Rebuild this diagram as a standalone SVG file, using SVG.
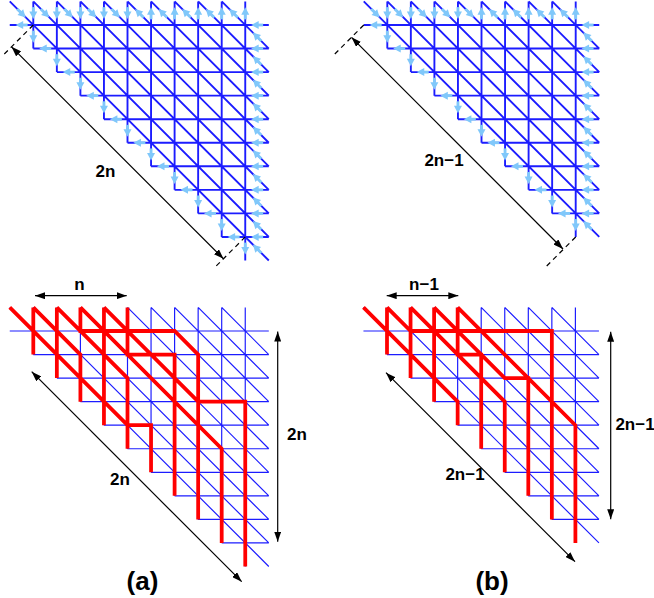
<svg xmlns="http://www.w3.org/2000/svg" xmlns:xlink="http://www.w3.org/1999/xlink" width="654" height="598" viewBox="0 0 654 598">
<style>
.grid{fill:none;stroke:#1c1cff}
.top{stroke-width:0.08}
.bot{stroke-width:0.05}
.red{fill:none;stroke:#ff0000;stroke-width:0.16;stroke-linejoin:miter}
.dim{fill:none;stroke:#000;stroke-width:1.2}
.dash{fill:none;stroke:#000;stroke-width:1.2;stroke-dasharray:5,4}
text{font-family:"Liberation Sans",Arial,Helvetica,sans-serif;font-weight:bold;font-size:17px;fill:#000;text-anchor:middle}
.big{font-size:26px}
</style>
<defs>
<marker id="ah" viewBox="0 0 10 7" refX="10" refY="3.5" markerWidth="10" markerHeight="7" markerUnits="userSpaceOnUse" orient="auto-start-reverse"><path d="M0,0L10,3.5L0,7z" fill="#000"/></marker>
<g id="ar"><path d="M-0.26,0H0" stroke="#80c8fa" stroke-width="0.12"/><path d="M0.25,0L-0.07,-0.17L-0.07,0.17z" fill="#80c8fa"/></g>
<path id="gridA" d="M-1 0H10M0 1H10M1 2H10M2 3H10M3 4H10M4 5H10M5 6H10M6 7H10M7 8H10M8 9H10M0 -1V1M1 -1V2M2 -1V3M3 -1V4M4 -1V5M5 -1V6M6 -1V7M7 -1V8M8 -1V9M9 -1V10M-1 -1L10 10M0 -1L10 9M1 -1L10 8M2 -1L10 7M3 -1L10 6M4 -1L10 5M5 -1L10 4M6 -1L10 3M7 -1L10 2M8 -1L10 1"/>
<path id="gridB" d="M-1 0H9M0 1H9M1 2H9M2 3H9M3 4H9M4 5H9M5 6H9M6 7H9M7 8H9M0 -1V1M1 -1V2M2 -1V3M3 -1V4M4 -1V5M5 -1V6M6 -1V7M7 -1V8M8 -1V9M-1 -1L9 9M0 -1L9 8M1 -1L9 7M2 -1L9 6M3 -1L9 5M4 -1L9 4M5 -1L9 3M6 -1L9 2M7 -1L9 1"/>
</defs>

<g id="panel-a-top" transform="translate(33.3 25) scale(23.55)">
<use xlink:href="#gridA" href="#gridA" class="grid top"/>
<g id="arrows-a">
<use href="#ar" transform="translate(0 -0.5) rotate(90)"/><use href="#ar" transform="translate(-0.5 -0.5) rotate(45)"/>
<use href="#ar" transform="translate(1 -0.5) rotate(90)"/><use href="#ar" transform="translate(0.5 -0.5) rotate(45)"/>
<use href="#ar" transform="translate(2 -0.5) rotate(90)"/><use href="#ar" transform="translate(1.5 -0.5) rotate(45)"/>
<use href="#ar" transform="translate(3 -0.5) rotate(90)"/><use href="#ar" transform="translate(2.5 -0.5) rotate(45)"/>
<use href="#ar" transform="translate(4 -0.5) rotate(90)"/><use href="#ar" transform="translate(3.5 -0.5) rotate(45)"/>
<use href="#ar" transform="translate(5 -0.5) rotate(-90)"/><use href="#ar" transform="translate(4.5 -0.5) rotate(-135)"/>
<use href="#ar" transform="translate(6 -0.5) rotate(-90)"/><use href="#ar" transform="translate(5.5 -0.5) rotate(-135)"/>
<use href="#ar" transform="translate(7 -0.5) rotate(-90)"/><use href="#ar" transform="translate(6.5 -0.5) rotate(-135)"/>
<use href="#ar" transform="translate(8 -0.5) rotate(-90)"/><use href="#ar" transform="translate(7.5 -0.5) rotate(-135)"/>
<use href="#ar" transform="translate(9 -0.5) rotate(-90)"/><use href="#ar" transform="translate(8.5 -0.5) rotate(-135)"/>
<use href="#ar" transform="translate(9.5 0) rotate(180)"/><use href="#ar" transform="translate(9.5 0.5) rotate(-135)"/>
<use href="#ar" transform="translate(9.5 1) rotate(180)"/><use href="#ar" transform="translate(9.5 1.5) rotate(-135)"/>
<use href="#ar" transform="translate(9.5 2) rotate(180)"/><use href="#ar" transform="translate(9.5 2.5) rotate(-135)"/>
<use href="#ar" transform="translate(9.5 3) rotate(180)"/><use href="#ar" transform="translate(9.5 3.5) rotate(-135)"/>
<use href="#ar" transform="translate(9.5 4) rotate(180)"/><use href="#ar" transform="translate(9.5 4.5) rotate(-135)"/>
<use href="#ar" transform="translate(9.5 5) rotate(180)"/><use href="#ar" transform="translate(9.5 5.5) rotate(-135)"/>
<use href="#ar" transform="translate(9.5 6) rotate(180)"/><use href="#ar" transform="translate(9.5 6.5) rotate(-135)"/>
<use href="#ar" transform="translate(9.5 7) rotate(180)"/><use href="#ar" transform="translate(9.5 7.5) rotate(-135)"/>
<use href="#ar" transform="translate(9.5 8) rotate(180)"/><use href="#ar" transform="translate(9.5 8.5) rotate(-135)"/>
<use href="#ar" transform="translate(9.5 9) rotate(180)"/><use href="#ar" transform="translate(9.5 9.5) rotate(-135)"/>
<use href="#ar" transform="translate(-0.5 0) rotate(180)"/>
<use href="#ar" transform="translate(0 0.5) rotate(90)"/><use href="#ar" transform="translate(0.5 1) rotate(180)"/>
<use href="#ar" transform="translate(1 1.5) rotate(90)"/><use href="#ar" transform="translate(1.5 2) rotate(180)"/>
<use href="#ar" transform="translate(2 2.5) rotate(90)"/><use href="#ar" transform="translate(2.5 3) rotate(180)"/>
<use href="#ar" transform="translate(3 3.5) rotate(90)"/><use href="#ar" transform="translate(3.5 4) rotate(180)"/>
<use href="#ar" transform="translate(4 4.5) rotate(90)"/><use href="#ar" transform="translate(4.5 5) rotate(180)"/>
<use href="#ar" transform="translate(5 5.5) rotate(90)"/><use href="#ar" transform="translate(5.5 6) rotate(180)"/>
<use href="#ar" transform="translate(6 6.5) rotate(90)"/><use href="#ar" transform="translate(6.5 7) rotate(180)"/>
<use href="#ar" transform="translate(7 7.5) rotate(90)"/><use href="#ar" transform="translate(7.5 8) rotate(180)"/>
<use href="#ar" transform="translate(8 8.5) rotate(90)"/><use href="#ar" transform="translate(8.5 9) rotate(180)"/>
<use href="#ar" transform="translate(9 9.5) rotate(90)"/>
</g>
</g>

<g id="panel-b-top" transform="translate(387.3 25) scale(23.55)">
<use href="#gridB" class="grid top"/>
<g id="arrows-b">
<use href="#ar" transform="translate(0 -0.5) rotate(90)"/><use href="#ar" transform="translate(-0.5 -0.5) rotate(45)"/>
<use href="#ar" transform="translate(1 -0.5) rotate(90)"/><use href="#ar" transform="translate(0.5 -0.5) rotate(45)"/>
<use href="#ar" transform="translate(2 -0.5) rotate(90)"/><use href="#ar" transform="translate(1.5 -0.5) rotate(45)"/>
<use href="#ar" transform="translate(3 -0.5) rotate(90)"/><use href="#ar" transform="translate(2.5 -0.5) rotate(45)"/>
<use href="#ar" transform="translate(4 -0.5) rotate(-90)"/><use href="#ar" transform="translate(3.5 -0.5) rotate(45)"/>
<use href="#ar" transform="translate(5 -0.5) rotate(-90)"/><use href="#ar" transform="translate(4.5 -0.5) rotate(-135)"/>
<use href="#ar" transform="translate(6 -0.5) rotate(-90)"/><use href="#ar" transform="translate(5.5 -0.5) rotate(-135)"/>
<use href="#ar" transform="translate(7 -0.5) rotate(-90)"/><use href="#ar" transform="translate(6.5 -0.5) rotate(-135)"/>
<use href="#ar" transform="translate(8 -0.5) rotate(-90)"/><use href="#ar" transform="translate(7.5 -0.5) rotate(-135)"/>
<use href="#ar" transform="translate(8.5 0) rotate(180)"/><use href="#ar" transform="translate(8.5 0.5) rotate(-135)"/>
<use href="#ar" transform="translate(8.5 1) rotate(180)"/><use href="#ar" transform="translate(8.5 1.5) rotate(-135)"/>
<use href="#ar" transform="translate(8.5 2) rotate(180)"/><use href="#ar" transform="translate(8.5 2.5) rotate(-135)"/>
<use href="#ar" transform="translate(8.5 3) rotate(180)"/><use href="#ar" transform="translate(8.5 3.5) rotate(-135)"/>
<use href="#ar" transform="translate(8.5 4) rotate(180)"/><use href="#ar" transform="translate(8.5 4.5) rotate(-135)"/>
<use href="#ar" transform="translate(8.5 5) rotate(180)"/><use href="#ar" transform="translate(8.5 5.5) rotate(-135)"/>
<use href="#ar" transform="translate(8.5 6) rotate(180)"/><use href="#ar" transform="translate(8.5 6.5) rotate(-135)"/>
<use href="#ar" transform="translate(8.5 7) rotate(180)"/><use href="#ar" transform="translate(8.5 7.5) rotate(-135)"/>
<use href="#ar" transform="translate(8.5 8) rotate(180)"/><use href="#ar" transform="translate(8.5 8.5) rotate(-135)"/>
<use href="#ar" transform="translate(-0.5 0) rotate(180)"/>
<use href="#ar" transform="translate(0 0.5) rotate(90)"/><use href="#ar" transform="translate(0.5 1) rotate(180)"/>
<use href="#ar" transform="translate(1 1.5) rotate(90)"/><use href="#ar" transform="translate(1.5 2) rotate(180)"/>
<use href="#ar" transform="translate(2 2.5) rotate(90)"/><use href="#ar" transform="translate(2.5 3) rotate(180)"/>
<use href="#ar" transform="translate(3 3.5) rotate(90)"/><use href="#ar" transform="translate(3.5 4) rotate(180)"/>
<use href="#ar" transform="translate(4 4.5) rotate(90)"/><use href="#ar" transform="translate(4.5 5) rotate(180)"/>
<use href="#ar" transform="translate(5 5.5) rotate(90)"/><use href="#ar" transform="translate(5.5 6) rotate(180)"/>
<use href="#ar" transform="translate(6 6.5) rotate(90)"/><use href="#ar" transform="translate(6.5 7) rotate(180)"/>
<use href="#ar" transform="translate(7 7.5) rotate(90)"/><use href="#ar" transform="translate(7.5 8) rotate(180)"/>
<use href="#ar" transform="translate(8 8.5) rotate(90)"/>
</g>
</g>

<g id="panel-a-bottom" transform="translate(33.3 331) scale(23.55)">
<use href="#gridA" class="grid bot"/>
<path class="red" d="M0 -1V1M1 -1V2M2 -1V0H6L7 1V8M3 -1V4M4 -1V1H6V7M-1 -1L4 4H5V6M0 -1L2 1V3M1 -1L4 2V5M2 -1L8 5V9M3 -1L7 3H9V10"/>
</g>

<g id="panel-b-bottom" transform="translate(387 331) scale(23.55)">
<use href="#gridB" class="grid bot"/>
<path class="red" d="M0 -1V1M1 -1V0H7V8M2 -1V3M3 -1V1H4V5M-1 -1L3 3V4M0 -1L1 0V2M1 -1L5 3V6M2 -1L5 2H6V7M3 -1L8 4V9"/>
</g>

<g id="connectors">
<path class="dash" d="M33.3,25L3,55.3M245.3,236.9L215,267.2"/>
<path class="dim" d="M11.5,46.8L223.5,258.8" marker-start="url(#ah)" marker-end="url(#ah)"/>
<path class="dash" d="M363.8,25L333,55.8M575.7,237L545,267.7"/>
<path class="dim" d="M351.5,37.3L563,249" marker-start="url(#ah)" marker-end="url(#ah)"/>
<path class="dim" d="M35,295.7L126.7,295.7" marker-start="url(#ah)" marker-end="url(#ah)"/>
<path class="dim" d="M277.7,331.5L277.7,541.7" marker-start="url(#ah)" marker-end="url(#ah)"/>
<path class="dim" d="M31.7,371.7L241.7,581.7" marker-start="url(#ah)" marker-end="url(#ah)"/>
<path class="dim" d="M386.7,295.7L458.3,295.7" marker-start="url(#ah)" marker-end="url(#ah)"/>
<path class="dim" d="M610.7,331.7L610.7,519.3" marker-start="url(#ah)" marker-end="url(#ah)"/>
<path class="dim" d="M386,372.7L575,561.7" marker-start="url(#ah)" marker-end="url(#ah)"/>
</g>

<g id="labels">
<text x="105.5" y="177">2n</text>
<text x="444" y="166">2n−1</text>
<text x="79.5" y="290">n</text>
<text x="297" y="440">2n</text>
<text x="120" y="485">2n</text>
<text x="424" y="290">n−1</text>
<text x="635" y="430">2n−1</text>
<text x="465" y="480">2n−1</text>
<text class="big" x="142.5" y="590">(a)</text>
<text class="big" x="492" y="590">(b)</text>
</g>
</svg>
